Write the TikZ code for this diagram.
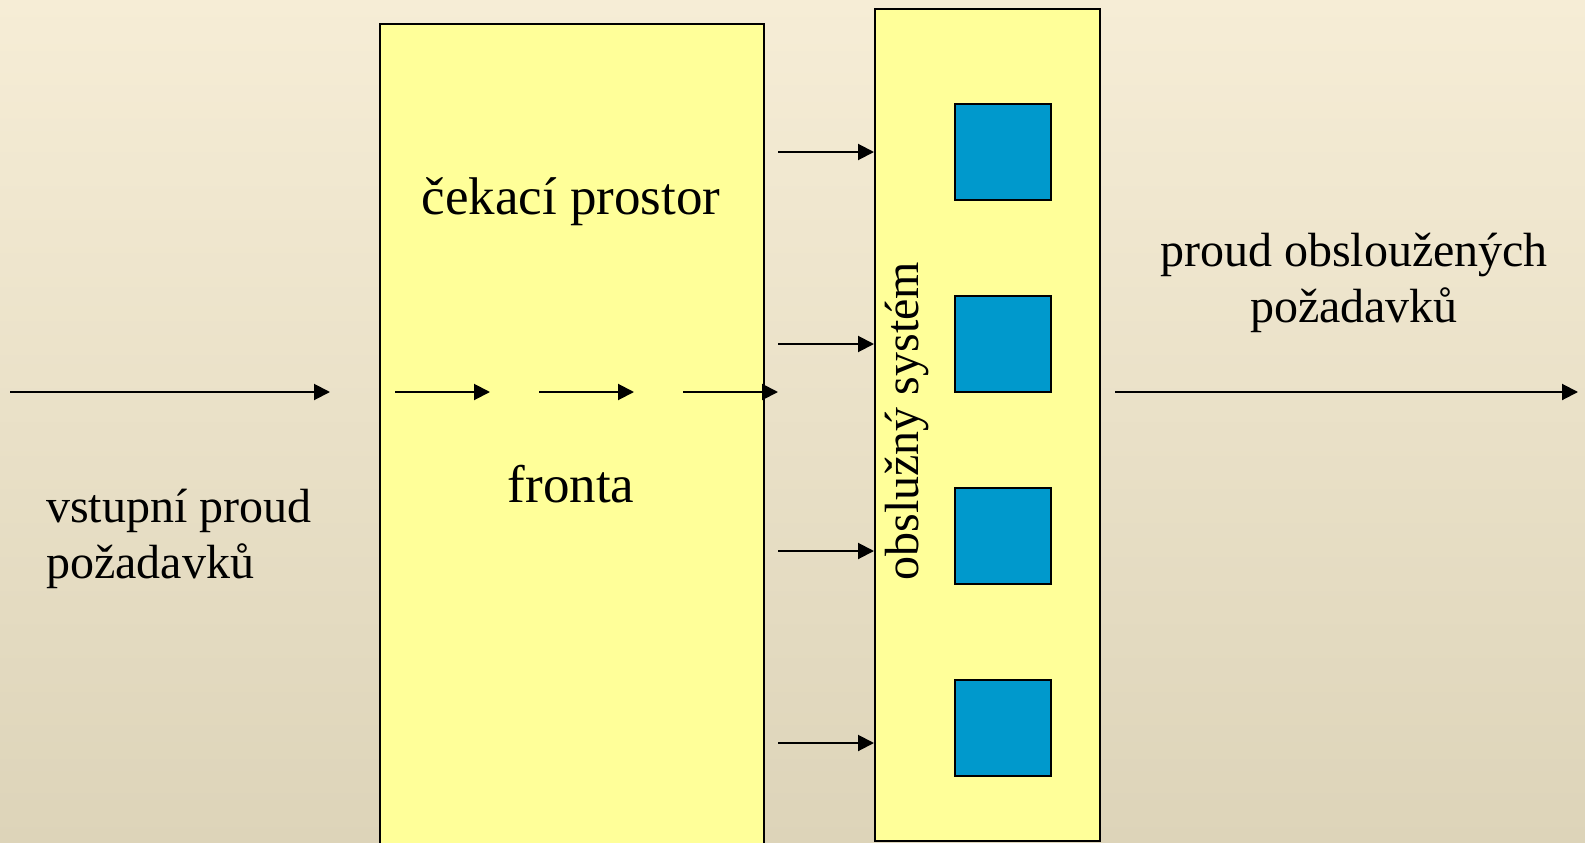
\documentclass[tikz,border=0pt]{standalone}
\usepackage{fontspec}
\setmainfont{Liberation Serif}
\usetikzlibrary{arrows.meta}
\definecolor{qyellow}{HTML}{FFFF99}
\definecolor{sblue}{HTML}{0099CC}
\definecolor{bgtop}{RGB}{246,237,214}
\definecolor{bgmid}{RGB}{240,233,212}
\definecolor{bgbot}{RGB}{221,212,185}
\begin{document}
\begin{tikzpicture}[x=1pt,y=-1pt,
  flow/.style={line width=2pt,-{Triangle[length=16pt,width=16pt]}},
  boxstyle/.style={draw=black,line width=2.2pt,fill=qyellow,inner sep=0pt,anchor=north west},
  server/.style={draw=black,line width=2.2pt,fill=sblue,minimum width=96pt,minimum height=96pt,inner sep=0pt},
  big/.style={font=\fontsize{53}{60}\selectfont,inner sep=0pt},
  lbl/.style={font=\fontsize{48}{56}\selectfont,inner sep=0pt}]
\useasboundingbox (0,0) rectangle (1585,843);
\shade[top color=bgtop, middle color=bgmid, bottom color=bgbot] (0,0) rectangle (1585,843);
\clip (0,0) rectangle (1585,843);
% boxes
\node[boxstyle,minimum width=384pt,minimum height=840pt] (queue) at (379,23) {};
\node[boxstyle,minimum width=225pt,minimum height=832pt] (sys) at (874,8) {};
% servers
\node[server] (s1) at (1003,152) {};
\node[server] (s2) at (1003,344) {};
\node[server] (s3) at (1003,536) {};
\node[server] (s4) at (1003,728) {};
% main flow
\coordinate (in0) at (10,392);
\coordinate (in1) at (330,392);
\draw[flow] (in0) -- (in1);
\coordinate (q1a) at (395,392); \coordinate (q1b) at (490,392);
\coordinate (q2a) at (539,392); \coordinate (q2b) at (634,392);
\coordinate (q3a) at (683,392); \coordinate (q3b) at (778,392);
\draw[flow] (q1a) -- (q1b);
\draw[flow] (q2a) -- (q2b);
\draw[flow] (q3a) -- (q3b);
\coordinate (out0) at (1115,392);
\coordinate (out1) at (1578,392);
\draw[flow] (out0) -- (out1);
% arrows into service system
\coordinate (a1) at (778,152);
\coordinate (a2) at (778,344);
\coordinate (a3) at (778,551);
\coordinate (a4) at (778,743);
\draw[flow] (a1) -- (a1 -| sys.west);
\draw[flow] (a2) -- (a2 -| sys.west);
\draw[flow] (a3) -- (a3 -| sys.west);
\draw[flow] (a4) -- (a4 -| sys.west);
% labels
\node[big,anchor=base] (wait) at (571,214) {čekací prostor};
\node[big,anchor=base] (fronta) at (571,502) {fronta};
\node[lbl,anchor=base west,align=left] (input) at (46,578) {vstupní proud\\požadavků};
\node[lbl,anchor=base,align=center] (output) at (1354,322) {proud obsloužených\\požadavků};
\node[lbl,rotate=90,anchor=base] (systxt) at (918,421) {obslužný systém};
\end{tikzpicture}
\end{document}
